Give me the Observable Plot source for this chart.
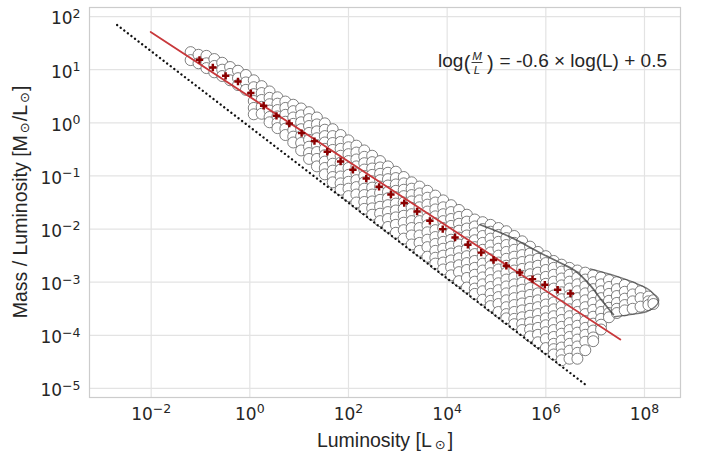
<!DOCTYPE html>
<html><head><meta charset="utf-8">
<script src="https://cdn.jsdelivr.net/npm/d3@7"></script>
<script src="https://cdn.jsdelivr.net/npm/@observablehq/plot@0.6"></script>
<style>body{margin:0;background:#fff;} #chart svg{display:block;}</style>
</head><body><div id="chart"></div><script>
// ---- tick values (log10 exponents) ----
const xTickExp = [-2, 0, 2, 4, 6, 8];
const yTickExp = [-5, -4, -3, -2, -1, 0, 1, 2];
const xTickLabels = ["−2", "0", "2", "4", "6", "8"];
const yTickLabels = ["−5", "−4", "−3", "−2", "−1", "0", "1", "2"];

// ---- scatter cloud: log10 L per column, log10 (M/L) of circles in that column ----
const cloudL = [-1.20,-1.04,-0.88,-0.72,-0.56,-0.40,-0.24,-0.08,0.08,0.24,0.40,0.56,0.72,0.88,1.04,1.20,1.36,1.52,1.68,1.84,2.00,2.16,2.32,2.48,2.64,2.80,2.96,3.12,3.28,3.44,3.60,3.76,3.92,4.08,4.24,4.40,4.56,4.72,4.88,5.04,5.20,5.36,5.52,5.68,5.84,6.00,6.16,6.32,6.48,6.64,6.80,6.96,7.12,7.28,7.44,7.60,7.76,7.92,8.08,8.18];
const cloudLogML = [
[1.33,1.18],
[1.28,1.12],
[1.26,1.12,1.03],
[1.20,1.07,0.95],
[1.13,1.00,0.88],
[1.05,0.92,0.80],
[0.98,0.84,0.71],
[0.90,0.76,0.62],
[0.80,0.67,0.54,0.41,0.28,0.16],
[0.69,0.56,0.43,0.30,0.17],
[0.59,0.47,0.35,0.23,0.11,0.01],
[0.48,0.36,0.24,0.12,0.00,-0.10],
[0.40,0.28,0.15,0.02,-0.11,-0.23],
[0.34,0.22,0.10,-0.02,-0.14,-0.26,-0.37],
[0.27,0.14,0.01,-0.12,-0.25,-0.38,-0.52],
[0.20,0.07,-0.06,-0.19,-0.32,-0.45,-0.57,-0.68],
[0.10,-0.03,-0.16,-0.29,-0.42,-0.55,-0.68,-0.82],
[-0.01,-0.13,-0.25,-0.37,-0.49,-0.61,-0.73,-0.85,-0.97],
[-0.12,-0.25,-0.38,-0.51,-0.64,-0.77,-0.90,-1.02,-1.12],
[-0.23,-0.36,-0.49,-0.62,-0.75,-0.88,-1.01,-1.14,-1.26],
[-0.33,-0.46,-0.59,-0.72,-0.85,-0.98,-1.11,-1.24,-1.38],
[-0.43,-0.56,-0.69,-0.82,-0.95,-1.08,-1.21,-1.35,-1.50],
[-0.52,-0.64,-0.76,-0.88,-1.00,-1.12,-1.24,-1.36,-1.49,-1.62],
[-0.62,-0.74,-0.86,-0.98,-1.10,-1.22,-1.35,-1.48,-1.61,-1.73],
[-0.72,-0.84,-0.96,-1.08,-1.20,-1.32,-1.45,-1.58,-1.71,-1.85],
[-0.82,-0.94,-1.06,-1.18,-1.30,-1.42,-1.55,-1.68,-1.81,-1.96],
[-0.92,-1.04,-1.16,-1.28,-1.40,-1.52,-1.65,-1.78,-1.92,-2.07],
[-1.02,-1.14,-1.26,-1.38,-1.50,-1.62,-1.75,-1.88,-2.02,-2.18],
[-1.12,-1.24,-1.36,-1.48,-1.60,-1.72,-1.85,-1.98,-2.12,-2.29],
[-1.20,-1.33,-1.46,-1.59,-1.72,-1.85,-1.98,-2.12,-2.26,-2.41],
[-1.28,-1.41,-1.54,-1.67,-1.80,-1.93,-2.06,-2.20,-2.34,-2.52],
[-1.37,-1.50,-1.63,-1.76,-1.89,-2.02,-2.15,-2.28,-2.41,-2.54,-2.65],
[-1.46,-1.59,-1.72,-1.85,-1.98,-2.11,-2.24,-2.37,-2.50,-2.63,-2.76],
[-1.55,-1.68,-1.81,-1.94,-2.07,-2.20,-2.33,-2.46,-2.59,-2.72,-2.87],
[-1.64,-1.77,-1.90,-2.03,-2.16,-2.29,-2.42,-2.55,-2.68,-2.81,-2.98],
[-1.73,-1.86,-1.99,-2.12,-2.25,-2.38,-2.51,-2.64,-2.77,-2.92,-3.10],
[-1.82,-1.95,-2.08,-2.21,-2.34,-2.47,-2.60,-2.73,-2.86,-2.99,-3.12,-3.22],
[-1.87,-2.00,-2.13,-2.26,-2.39,-2.52,-2.65,-2.78,-2.91,-3.04,-3.17,-3.33],
[-1.92,-2.05,-2.18,-2.31,-2.44,-2.57,-2.70,-2.83,-2.96,-3.09,-3.22,-3.35,-3.45],
[-1.98,-2.11,-2.24,-2.37,-2.50,-2.63,-2.76,-2.89,-3.02,-3.15,-3.28,-3.41,-3.56],
[-2.04,-2.17,-2.30,-2.43,-2.56,-2.69,-2.82,-2.95,-3.08,-3.21,-3.34,-3.47,-3.60,-3.68],
[-2.13,-2.26,-2.39,-2.52,-2.65,-2.78,-2.91,-3.04,-3.17,-3.30,-3.43,-3.56,-3.69,-3.79],
[-2.23,-2.36,-2.49,-2.62,-2.75,-2.88,-3.01,-3.14,-3.27,-3.40,-3.53,-3.66,-3.79,-3.90],
[-2.33,-2.46,-2.59,-2.72,-2.85,-2.98,-3.11,-3.24,-3.37,-3.50,-3.63,-3.76,-3.89,-4.02],
[-2.43,-2.56,-2.69,-2.82,-2.95,-3.08,-3.21,-3.34,-3.47,-3.60,-3.73,-3.86,-3.99,-4.13],
[-2.51,-2.64,-2.77,-2.90,-3.03,-3.16,-3.29,-3.42,-3.55,-3.68,-3.81,-3.94,-4.07,-4.24],
[-2.60,-2.73,-2.86,-2.99,-3.12,-3.25,-3.38,-3.51,-3.64,-3.77,-3.90,-4.03,-4.16,-4.26,-4.36],
[-2.67,-2.80,-2.93,-3.06,-3.19,-3.32,-3.45,-3.58,-3.71,-3.84,-3.97,-4.10,-4.23,-4.36,-4.47],
[-2.73,-2.86,-2.99,-3.12,-3.25,-3.38,-3.51,-3.64,-3.77,-3.90,-4.03,-4.16,-4.29,-4.44],
[-2.78,-2.91,-3.04,-3.17,-3.30,-3.43,-3.56,-3.69,-3.82,-3.95,-4.08,-4.21,-4.33,-4.44],
[-2.82,-2.95,-3.08,-3.21,-3.34,-3.47,-3.60,-3.73,-3.86,-3.99,-4.12,-4.28],
[-2.87,-3.00,-3.13,-3.26,-3.39,-3.52,-3.65,-3.78,-3.91,-4.04,-4.11],
[-2.91,-3.04,-3.17,-3.30,-3.43,-3.56,-3.69,-3.80,-3.89],
[-2.96,-3.09,-3.22,-3.35,-3.48,-3.58,-3.66],
[-3.00,-3.13,-3.26,-3.39,-3.50,-3.58],
[-3.05,-3.18,-3.31,-3.43,-3.53],
[-3.10,-3.23,-3.36,-3.50],
[-3.17,-3.30,-3.46],
[-3.27,-3.36,-3.43],
[-3.34,-3.41]
];

// dense dark streaks formed by overlapping circle edges
const streakLogL  = [4.67, 5.28, 5.89, 6.30, 6.60, 6.91, 7.14, 7.37];
const streakLogML = [-1.92, -2.15, -2.45, -2.64, -2.79, -3.07, -3.35, -3.61];
const tipLogL  = [6.90, 7.41, 7.85, 8.12, 8.28, 8.08, 7.71, 7.39];
const tipLogML = [-2.75, -2.88, -3.03, -3.16, -3.37, -3.54, -3.61, -3.65];

// binned medians (red crosses)
const binLogL  = [-1.02,-0.75,-0.49,-0.24,0.02,0.28,0.54,0.80,1.05,1.31,1.57,1.84,2.09,2.36,2.62,2.86,3.13,3.39,3.65,3.91,4.16,4.42,4.69,4.94,5.20,5.47,5.73,5.98,6.24,6.50];
const binLogML = [1.185,1.040,0.884,0.777,0.559,0.320,0.131,-0.014,-0.194,-0.345,-0.546,-0.729,-0.885,-1.049,-1.205,-1.350,-1.511,-1.670,-1.845,-2.001,-2.159,-2.296,-2.443,-2.582,-2.691,-2.817,-2.942,-3.049,-3.143,-3.213];

// fitted relation (red line) and lower limit (dotted line)
const fitLogL  = [-2.01, 7.51];
const fitLogML = [1.71, -4.08];
const limitLogL  = [-2.69, 6.82];
const limitLogML = [1.84, -4.94];

const pts = (ls, ms) => ls.map((l, i) => ({L: 10 ** l, ML: 10 ** ms[i]}));
const cloud = cloudL.flatMap((l, i) => cloudLogML[i].map(m => ({L: 10 ** l, ML: 10 ** m})));
const xTicks = xTickExp.map(e => 10 ** e);
const yTicks = yTickExp.map(e => 10 ** e);
const xFmt = d => xTickLabels[xTickExp.indexOf(Math.round(Math.log10(d)))];
const yFmt = d => yTickLabels[yTickExp.indexOf(Math.round(Math.log10(d)))];

const chart = Plot.plot({
  width: 702, height: 459,
  marginTop: 7, marginRight: 22, marginBottom: 62, marginLeft: 89,
  style: {background: "white", fontFamily: "DejaVu Sans", fontSize: "17px", color: "#262626", overflow: "visible"},
  x: {type: "log", domain: [10 ** -3.25, 10 ** 8.73]},
  y: {type: "log", domain: [10 ** -5.17, 10 ** 2.17]},
  marks: [
    Plot.gridX(xTicks, {stroke: "#e3e3e3", strokeOpacity: 1, strokeWidth: 1.2}),
    Plot.gridY(yTicks, {stroke: "#e3e3e3", strokeOpacity: 1, strokeWidth: 1.2}),
    Plot.dot(cloud, {x: "L", y: "ML", r: 5.5, fill: "white", stroke: "#606060", strokeWidth: 0.8}),
    Plot.line(pts(streakLogL, streakLogML), {x: "L", y: "ML", stroke: "#3a3a3a", strokeWidth: 1.7, strokeOpacity: 0.75, curve: "catmull-rom"}),
    Plot.line(pts(tipLogL, tipLogML), {x: "L", y: "ML", stroke: "#404040", strokeWidth: 1.3, strokeOpacity: 0.7, curve: "catmull-rom"}),
    Plot.line(pts(limitLogL, limitLogML), {x: "L", y: "ML", stroke: "#111", strokeWidth: 2.3, strokeLinecap: "round", strokeDasharray: "0.1,4.4"}),
    Plot.line(pts(fitLogL, fitLogML), {x: "L", y: "ML", stroke: "#c8383b", strokeWidth: 1.8}),
    Plot.dot(pts(binLogL, binLogML), {x: "L", y: "ML", symbol: "cross", r: 3.1, fill: "#8b0000"}),
    Plot.frame({stroke: "#cccccc", strokeWidth: 1.2}),
    Plot.axisX(xTicks, {tickSize: 0, tickPadding: 10, fontSize: 17, label: null, tickFormat: xFmt}),
    Plot.axisY(yTicks, {tickSize: 0, tickPadding: 9, dy: 2.4, fontSize: 17, label: null, tickFormat: yFmt})
  ]
});
document.getElementById("chart").appendChild(chart);

const svg = d3.select(chart);
// turn exponent tick labels into 10 + superscript
svg.selectAll('g[aria-label$="tick label"] text').each(function () {
  const exp = this.textContent;
  const t = d3.select(this);
  t.text(null);
  t.append("tspan").text("10");
  t.append("tspan").attr("font-size", "12.5px").attr("dy", "-6.5").text(exp);
});

const sans = "'Liberation Sans', Arial, sans-serif";
// x axis label
const xl = svg.append("text").attr("x", 385).attr("y", 447).attr("text-anchor", "middle")
  .attr("font-family", sans).attr("font-size", 19.5).attr("fill", "#262626");
xl.append("tspan").text("Luminosity [L");
xl.append("tspan").attr("font-family", "DejaVu Sans").attr("font-size", 13).attr("dx", 3).attr("dy", 2).text("⊙");
xl.append("tspan").attr("dx", 2).attr("dy", -2).text("]");

// y axis label
const yl = svg.append("text").attr("transform", "translate(27,202) rotate(-90)").attr("text-anchor", "middle")
  .attr("font-family", sans).attr("font-size", 19.5).attr("fill", "#262626");
yl.append("tspan").text("Mass / Luminosity [M");
yl.append("tspan").attr("font-family", "DejaVu Sans").attr("font-size", 13).attr("dx", 2).attr("dy", 2).text("⊙");
yl.append("tspan").attr("dx", 1).attr("dy", -2).text("/L");
yl.append("tspan").attr("font-family", "DejaVu Sans").attr("font-size", 13).attr("dx", 2).attr("dy", 2).text("⊙");
yl.append("tspan").attr("dx", 1).attr("dy", -2).text("]");

// annotation: log(M/L) = -0.6 × log(L) + 0.5
const ann = svg.append("g").attr("font-family", sans).attr("fill", "#262626");
const a1 = ann.append("text").attr("x", 438).attr("y", 67).attr("font-size", 19).attr("text-anchor", "start");
a1.append("tspan").text("log");
a1.append("tspan").attr("font-size", 20).attr("dx", 0.5).attr("dy", 2.5).text("(");
ann.append("text").attr("x", 477).attr("y", 60).attr("font-size", 11.5).attr("font-style", "italic").attr("text-anchor", "middle").text("M");
ann.append("line").attr("x1", 471.5).attr("x2", 482.5).attr("y1", 62.5).attr("y2", 62.5).attr("stroke", "#262626").attr("stroke-width", 0.9);
ann.append("text").attr("x", 477).attr("y", 74).attr("font-size", 11.5).attr("font-style", "italic").attr("text-anchor", "middle").text("L");
const a2 = ann.append("text").attr("x", 667).attr("y", 67).attr("font-size", 19).attr("text-anchor", "end");
a2.append("tspan").attr("font-size", 20).attr("dy", 2.5).text(")");
a2.append("tspan").attr("dx", 6).attr("dy", -2.5).text("= -0.6 × log(L) + 0.5");
</script></body></html>
